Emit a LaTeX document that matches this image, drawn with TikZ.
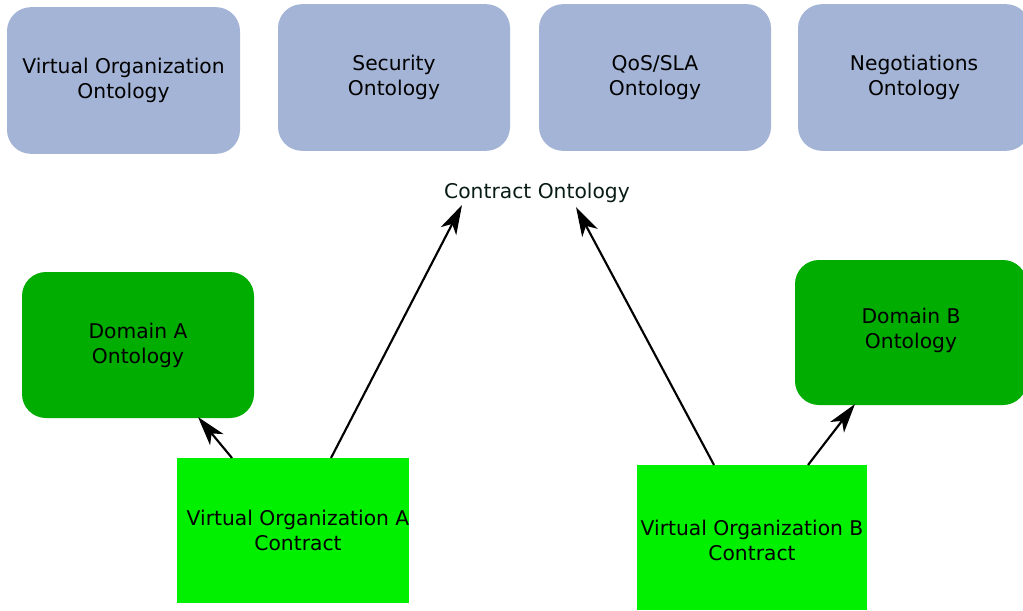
\documentclass[tikz,border=0pt]{standalone}
\usepackage{fontspec}
\setmainfont{DejaVu Sans}
\usetikzlibrary{arrows.meta}
\definecolor{onto}{RGB}{164,180,214}
\definecolor{domain}{RGB}{0,173,0}
\definecolor{contract}{RGB}{0,240,0}
\definecolor{cotext}{RGB}{8,28,20}
\begin{document}
\begin{tikzpicture}[x=0.75pt,y=-0.75pt,
  box/.style={inner sep=0pt,align=center,font=\fontsize{15.2}{18.75}\selectfont,text=black,minimum width=174pt,minimum height=110pt},
  ontobox/.style={box,fill=onto,rounded corners=18pt},
  domainbox/.style={box,fill=domain,rounded corners=18pt},
  contractbox/.style={box,fill=contract},
  arr/.style={line width=1.6pt,draw=black,-{Stealth[length=22pt,width=13pt,inset=6pt]}}]
\useasboundingbox (0,0) rectangle (1023,610);
\clip (0,0) rectangle (1023,610);
\fill[white] (0,0) rectangle (1023,610);
\node[ontobox,minimum width=174.75pt] (vo) at (123.5,80.5) {Virtual Organization\\Ontology};
\node[ontobox] (sec) at (394,77.5) {Security\\Ontology};
\node[ontobox] (qos) at (655,77.5) {QoS/SLA\\Ontology};
\node[ontobox] (neg) at (914,77.5) {Negotiations\\Ontology};
\node[domainbox,minimum height=109.5pt] (da) at (138,345) {Domain A\\Ontology};
\node[domainbox,minimum height=108.75pt] (db) at (911,332.5) {};
\node[box,minimum width=0pt,minimum height=0pt] (dbtext) at (911,330) {Domain B\\Ontology};
\node[contractbox,minimum height=108.75pt] (ca) at (293,530.5) {};
\node[box,minimum width=0pt,minimum height=0pt] (catext) at (298,530.5) {Virtual Organization A\\Contract};
\node[contractbox,minimum width=172.5pt,minimum height=108.75pt] (cb) at (752,537.5) {};
\node[box,minimum width=0pt,minimum height=0pt] (cbtext) at (752,540.5) {Virtual Organization B\\Contract};
\node[inner sep=0pt,font=\fontsize{15.2}{18}\selectfont,text=cotext] (co) at (537,193) {Contract Ontology};
\coordinate (caL) at (232,458);
\coordinate (caR) at (331,458);
\coordinate (cbL) at (714,465);
\coordinate (cbR) at (808,465);
\coordinate (daT) at (198,417);
\coordinate (coL) at (462,205);
\coordinate (coR) at (576,207);
\coordinate (dbT) at (855,404);
\draw[arr] (caL) -- (daT);
\draw[arr] (caR) -- (coL);
\draw[arr] (cbL) -- (coR);
\draw[arr] (cbR) -- (dbT);
\end{tikzpicture}
\end{document}
